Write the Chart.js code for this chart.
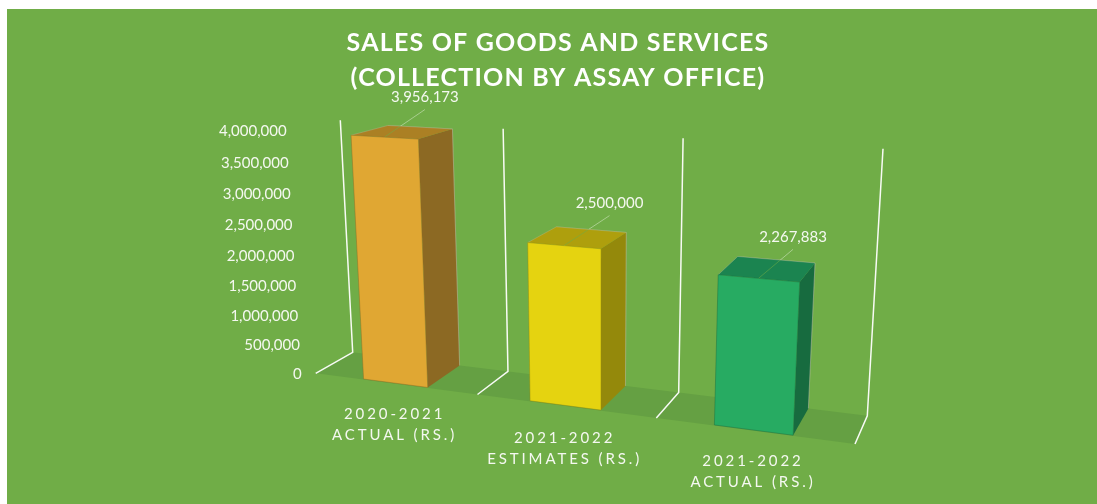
<!DOCTYPE html>
<html>
<head>
<meta charset="utf-8">
<style>html,body{margin:0;padding:0;background:#fff;overflow:hidden}canvas{display:block}</style>
<script src="https://cdn.jsdelivr.net/npm/chart.js@4/dist/chart.umd.min.js"></script>
</head>
<body>
<canvas id="c" width="1097" height="504"></canvas>
<script>
// ---- data ----
const categories = [["2020-2021", "ACTUAL (RS.)"], ["2021-2022", "ESTIMATES (RS.)"], ["2021-2022", "ACTUAL (RS.)"]];
const values = [3956173, 2500000, 2267883];
const valueTicks = [0, 500000, 1000000, 1500000, 2000000, 2500000, 3000000, 3500000, 4000000];
const titleLines = ["SALES OF GOODS AND SERVICES", "(COLLECTION BY ASSAY OFFICE)"];

// ---- styles ----
const frontColors = ["#E0A733", "#E5D310", "#27AB62"];
const sideColors = ["#8C6923", "#94890B", "#176B3F"];
const topColors = ["#AB8024", "#AE9F0D", "#1B8450"];
const BG = "#70AD47", FLOOR = "#65A043";
const LABEL = "#F4F8F0";
const FONT = "Lato, Carlito, sans-serif";

// Camera of the 3-D plot: (u along categories 0..1, d depth 0..1, h value 0..1) -> page pixels
function project(u, d, h) {
  const X = 417.22 * u + 55.13 * d - 30.15 * h + 315.7;
  const Y = 7.31 * u - 2.89 * d - 250 * h + 373.3;
  const W = -0.14278 * u + 0.05141 * d - 0.0503 * h + 1;
  return [X / W, Y / W];
}
const DEPTH_FRONT = 0.02, DEPTH_BACK = 1.0;
const leaderOffsets = [[40.5, -27.6], [45.5, -30], [34.5, -29]];
const categoryLabelDrop = [30.8, 32.6, 30.8];

function poly(ctx, pts) {
  ctx.beginPath();
  pts.forEach((p, i) => i ? ctx.lineTo(p[0], p[1]) : ctx.moveTo(p[0], p[1]));
  ctx.closePath();
}
function line(ctx, pts) {
  ctx.beginPath();
  pts.forEach((p, i) => i ? ctx.lineTo(p[0], p[1]) : ctx.moveTo(p[0], p[1]));
  ctx.stroke();
}

const scene3d = {
  id: "scene3d",
  afterInit(chart) {
    const t = chart.titleBlock, orig = t.draw;
    t.draw = function (a) {
      const c = chart.ctx; c.save(); c.letterSpacing = "1.2px"; orig.call(t, a); c.restore();
    };
  },
  beforeDraw(chart) {
    const ctx = chart.ctx;
    ctx.fillStyle = "#fff"; ctx.fillRect(0, 0, chart.width, chart.height);
    ctx.fillStyle = BG; ctx.fillRect(7, 9, chart.width - 7, chart.height - 9);

    const y = chart.scales.y, x = chart.scales.x;
    // labels sit in the perspective of the plot, so they may not be clipped to the flat axis box
    y._computeLabelArea = () => undefined;
    x._computeLabelArea = () => undefined;
    y.getLabelItems().forEach((it, i) => {
      const p = project(0, 0, y.ticks[i].value / y.max);
      it.options.translation = [p[0] - 14, p[1] + 1.2];
      it.options.textAlign = "right";
      it.options.textBaseline = "middle";
      it.textOffset = 0;
    });
    x.getLabelItems().forEach((it, i) => {
      const p = project((i + 0.5) / categories.length, 0, 0);
      it.options.translation = [p[0], p[1] + categoryLabelDrop[i]];
      it.options.textAlign = "center";
      it.options.textBaseline = "middle";
      it.textOffset = 0;
    });
    if (!x._spaced) {
      x._spaced = true;
      const orig = x.drawLabels;
      x.drawLabels = function (a) {
        const c = chart.ctx; c.save(); c.letterSpacing = "2.9px"; orig.call(x, a); c.restore();
      };
    }
  },
  beforeDatasetsDraw(chart) {
    const ctx = chart.ctx, n = categories.length;
    ctx.save();
    ctx.fillStyle = FLOOR;
    poly(ctx, [project(0, 0, 0), project(1, 0, 0), project(1, 1, 0), project(0, 1, 0)]);
    ctx.fill();
    ctx.strokeStyle = "rgba(255,255,255,0.95)";
    ctx.lineWidth = 1.5;
    ctx.lineJoin = "miter";
    for (let i = 0; i <= n; i++) {
      const u = i / n;
      line(ctx, [project(u, 1, 1), project(u, 1, 0), project(u, 0, 0)]);
    }
    ctx.restore();
  },
  beforeDatasetDraw(chart, args) {
    const ctx = chart.ctx, area = chart.chartArea;
    const els = chart.getDatasetMeta(args.index).data;
    els.forEach((el, i) => {
      const props = el.getProps(["x", "y", "base", "width"], true);
      const u0 = (props.x - props.width / 2 - area.left) / area.width;
      const u1 = (props.x + props.width / 2 - area.left) / area.width;
      const h = (props.base - props.y) / area.height;
      const df = DEPTH_FRONT, db = DEPTH_BACK;
      const fl0 = project(u0, df, 0), fr0 = project(u1, df, 0), br0 = project(u1, db, 0);
      const fl = project(u0, df, h), fr = project(u1, df, h), br = project(u1, db, h), bl = project(u0, db, h);
      const tip = project((u0 + u1) / 2, df, h);
      const off = leaderOffsets[i];
      const end = [tip[0] + off[0], tip[1] + off[1]];

      ctx.save();
      ctx.lineWidth = 1;
      ctx.strokeStyle = "rgba(214,232,198,0.55)";
      line(ctx, [tip, end]);

      // side
      ctx.fillStyle = sideColors[i];
      poly(ctx, [fr0, br0, br, fr]); ctx.fill();
      ctx.strokeStyle = "rgba(190,190,170,0.35)";
      ctx.lineWidth = 0.8;
      line(ctx, [br0, br, bl]);
      // top
      ctx.fillStyle = topColors[i];
      poly(ctx, [fl, fr, br, bl]); ctx.fill();
      ctx.strokeStyle = "rgba(190,190,170,0.4)";
      line(ctx, [fl, bl, br]);
      line(ctx, [br, br0]);
      // leader over the top face
      ctx.save();
      poly(ctx, [fl, fr, br, bl]); ctx.clip();
      ctx.strokeStyle = "rgba(112,173,71,0.55)";
      ctx.lineWidth = 1;
      line(ctx, [tip, end]);
      ctx.restore();
      // front
      ctx.fillStyle = frontColors[i];
      poly(ctx, [fl0, fr0, fr, fl]); ctx.fill();
      ctx.strokeStyle = sideColors[i];
      ctx.globalAlpha = 0.55;
      ctx.lineWidth = 0.8;
      poly(ctx, [fl0, fr0, fr, fl]); ctx.stroke();
      ctx.globalAlpha = 1;

      // value label
      ctx.fillStyle = LABEL;
      ctx.font = "15px " + FONT;
      ctx.textAlign = "center";
      ctx.textBaseline = "middle";
      ctx.fillText(values[i].toLocaleString("en-US"), end[0], end[1] - 12);
      ctx.restore();
    });
    return false;
  }
};

new Chart(document.getElementById("c"), {
  type: "bar",
  data: {
    labels: categories,
    datasets: [{
      label: "Sales of goods and services",
      data: values,
      backgroundColor: frontColors,
      categoryPercentage: 1,
      barPercentage: 0.397
    }]
  },
  options: {
    responsive: false,
    animation: false,
    layout: { padding: { left: 19, right: 0, top: 0, bottom: 0 } },
    plugins: {
      legend: { display: false },
      tooltip: { enabled: false },
      title: {
        display: true,
        text: titleLines,
        color: "#FFFFFF",
        align: "center",
        font: { family: FONT, size: 25, weight: "bold", lineHeight: 1.4 },
        padding: { top: 25, bottom: 30 }
      }
    },
    scales: {
      x: {
        grid: { display: false },
        border: { display: false },
        ticks: { color: LABEL, autoSkip: false, maxRotation: 0, font: { family: FONT, size: 15, lineHeight: 1.4 } }
      },
      y: {
        min: 0,
        max: 4000000,
        afterBuildTicks(scale) { scale.ticks = valueTicks.map(v => ({ value: v })); },
        grid: { display: false },
        border: { display: false },
        ticks: {
          color: LABEL,
          autoSkip: false,
          font: { family: FONT, size: 15 },
          callback: v => Number(v).toLocaleString("en-US")
        }
      }
    }
  },
  plugins: [scene3d]
});
</script>
</body>
</html>
